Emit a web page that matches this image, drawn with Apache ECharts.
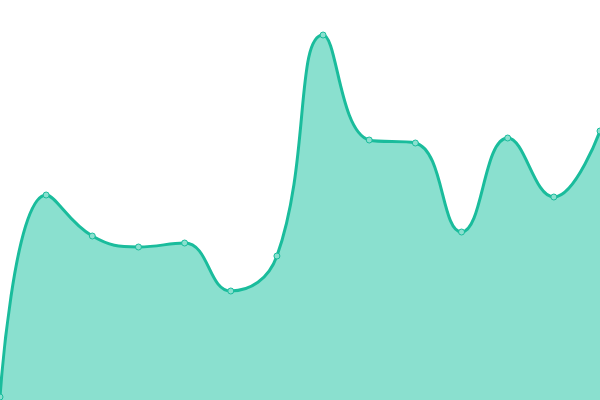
<!DOCTYPE html>
<html>
<head>
    <meta charset="utf-8">
    <title>area</title>
    <script src="https://cdn.jsdelivr.net/npm/echarts@6/dist/echarts.min.js"></script>
    <style>
        html, body { margin: 0; padding: 0; background: #fff; }
    </style>
</head>
<body>
<div id="main" style="width: 600px; height: 400px;"></div>
<script>
    var categories = ['1', '2', '3', '4', '5', '6', '7', '8', '9', '10', '11', '12', '13', '14'];
    var values = [3, 205, 164, 153, 157, 109, 144, 365, 260, 257, 168, 262, 203, 269];

    var chart = echarts.init(document.getElementById('main'));
    var option = {
        animation: false,
        grid: { left: 0, right: 0, top: 0, bottom: 0 },
        xAxis: {
            type: 'category',
            data: categories,
            boundaryGap: false,
            show: false
        },
        yAxis: {
            type: 'value',
            min: 0,
            max: 400,
            show: false
        },
        series: [{
            type: 'line',
            data: values,
            smooth: 0.45,
            symbol: 'circle',
            symbolSize: 6,
            showSymbol: true,
            itemStyle: { color: '#8ae0cf', borderColor: '#1abc9c', borderWidth: 1 },
            lineStyle: { color: '#1abc9c', width: 3 },
            areaStyle: { color: '#8ae0cf', opacity: 1 }
        }]
    };
    chart.setOption(option);
</script>
</body>
</html>
